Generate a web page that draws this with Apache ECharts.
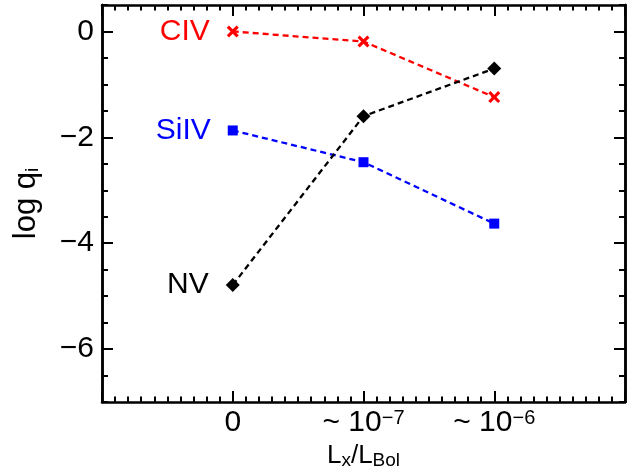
<!DOCTYPE html>
<html><head><meta charset="utf-8">
<script src="https://cdn.jsdelivr.net/npm/echarts@6/dist/echarts.min.js"></script>
<style>html,body{margin:0;padding:0;background:#fff}#c{width:632px;height:472px}</style>
</head><body><div id="c"></div>
<script>
// ---- data ----
const xPositions = [0, 1, 2];
const xTickBase = ['0', '~ 10', '~ 10'];
const xTickExp = ['', '\u22127', '\u22126'];
const yTickValues = [0, -2, -4, -6];
const seriesNames = ['CIV', 'SiIV', 'NV'];
const civ = [0.0, -0.19, -1.24];
const siiv = [-1.87, -2.47, -3.63];
const nv = [-4.79, -1.60, -0.70];

const FONT = "'Liberation Sans', Arial, Helvetica, sans-serif";
const chart = echarts.init(document.getElementById('c'), null, {renderer: 'canvas'});

function xLabel(v) {
  const i = xPositions.findIndex(p => Math.abs(p - v) < 1e-6);
  if (i < 0) return '';
  return '{b|' + xTickBase[i] + '}' + (xTickExp[i] ? '{s|' + xTickExp[i] + '}' : '');
}
function yLabel(v) {
  const i = yTickValues.findIndex(p => Math.abs(p - v) < 1e-6);
  if (i < 0) return '';
  return String(yTickValues[i]).replace('-', '\u2212');
}
const axisLine = {show: true, onZero: false, lineStyle: {color: '#000', width: 2.5}};
const xBase = {
  type: 'value', min: -1, max: 3, interval: 1,
  axisLine: axisLine,
  axisTick: {show: true, inside: true, length: 11, lineStyle: {color: '#000', width: 2}},
  minorTick: {show: true, splitNumber: 10, length: 5.5, lineStyle: {color: '#000', width: 2}},
  splitLine: {show: false}, minorSplitLine: {show: false}
};
const yBase = {
  type: 'value', min: -7, max: 0.5, interval: 0.5,
  axisLine: axisLine,
  splitLine: {show: false}
};
function makeData(arr) {
  return xPositions.map((x, i) => {
    const d = {value: [x, arr[i]]};
    if (i === 0) d.label = {show: true};
    return d;
  });
}
const colors = ['#ff0000', '#0000ff', '#000000'];
const symbols = [
  'path://M0,2.2L2.2,0L6,3.8L9.8,0L12,2.2L8.2,6L12,9.8L9.8,12L6,8.2L2.2,12L0,9.8L3.8,6Z',
  'rect',
  'diamond'
];
const symbolSizes = [12, 10, 14];
const allData = [civ, siiv, nv];

chart.setOption({
  animation: false,
  backgroundColor: '#fff',
  grid: {left: 102, right: 7, top: 5, bottom: 70, containLabel: false, outerBoundsMode: 'none'},
  xAxis: [
    Object.assign({}, xBase, {
      position: 'bottom',
      axisLabel: {
        show: true, margin: 6, formatter: xLabel,
        rich: {
          b: {fontSize: 30, fontFamily: FONT, color: '#000', lineHeight: 30},
          s: {fontSize: 20, fontFamily: FONT, color: '#000', lineHeight: 8, verticalAlign: 'top'}
        }
      },
      name: '{a|L}{s|x}{a|/L}{s|Bol}',
      nameLocation: 'middle', nameGap: 37,
      nameTextStyle: {
        rich: {
          a: {fontSize: 26, fontFamily: FONT, color: '#000', lineHeight: 28},
          s: {fontSize: 19, fontFamily: FONT, color: '#000', lineHeight: 2, verticalAlign: 'bottom'}
        }
      }
    }),
    Object.assign({}, xBase, {position: 'top', axisLabel: {show: false}})
  ],
  yAxis: [
    Object.assign({}, yBase, {
      position: 'left',
      axisTick: {show: true, inside: true, length: 6, lineStyle: {color: '#000', width: 2}},
      axisLabel: {show: true, margin: 8, formatter: yLabel, fontSize: 30, fontFamily: FONT, color: '#000'},
      name: '{a|log q}{s|i}',
      nameLocation: 'middle', nameRotate: 90, nameGap: 60,
      nameTextStyle: {
        rich: {
          a: {fontSize: 31, fontFamily: FONT, color: '#000', lineHeight: 31},
          s: {fontSize: 19, fontFamily: FONT, color: '#000', lineHeight: 8, verticalAlign: 'bottom'}
        }
      }
    }),
    Object.assign({}, yBase, {
      position: 'left',
      axisTick: {show: true, inside: true, length: 11, customValues: yTickValues, lineStyle: {color: '#000', width: 2}},
      axisLabel: {show: false}
    }),
    Object.assign({}, yBase, {
      position: 'right',
      axisTick: {show: true, inside: true, length: 6, lineStyle: {color: '#000', width: 2}},
      axisLabel: {show: false}
    }),
    Object.assign({}, yBase, {
      position: 'right',
      axisTick: {show: true, inside: true, length: 11, customValues: yTickValues, lineStyle: {color: '#000', width: 2}},
      axisLabel: {show: false}
    })
  ],
  series: seriesNames.map((name, k) => ({
    name: name, type: 'line', xAxisIndex: 0, yAxisIndex: 0,
    data: makeData(allData[k]),
    symbol: symbols[k], symbolSize: symbolSizes[k], showAllSymbol: true,
    itemStyle: {color: colors[k]},
    lineStyle: {color: colors[k], width: 2.3, type: [6, 4]},
    label: {
      show: false, position: 'left', distance: 17, formatter: name,
      fontSize: 30, fontFamily: FONT, color: colors[k]
    },
    emphasis: {disabled: true},
    z: 3 + k
  }))
});
</script></body></html>
